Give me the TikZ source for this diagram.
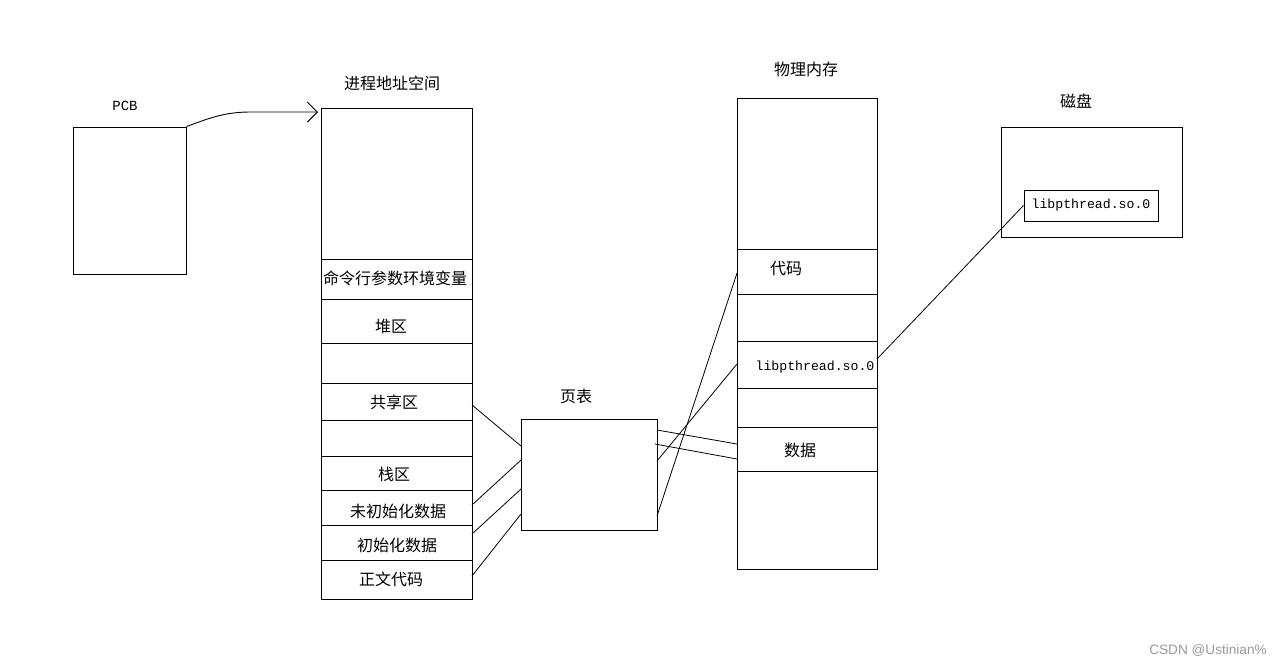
\documentclass[tikz,border=0pt]{standalone}
\usepackage{fontspec}
\setmainfont{Noto Sans CJK SC}
\newfontfamily\monof{Liberation Mono}
\newfontfamily\wmf{Liberation Sans}
\usetikzlibrary{arrows.meta}
\definecolor{wmgray}{HTML}{9A9A9A}
\begin{document}
\begin{tikzpicture}[x=1pt,y=-1pt,
  box/.style={draw=black,line width=1pt,inner sep=0pt,minimum width=#1},
  cjk/.style={inner sep=0pt,font=\fontsize{16}{18}\selectfont},
  mono/.style={inner sep=0pt,font=\monof\fontsize{13.2}{16}\selectfont},
  link/.style={draw=black,line width=0.8pt},
  wm/.style={inner sep=0pt,text=wmgray,font=\wmf\fontsize{13.6}{16}\selectfont}]
\useasboundingbox[fill=white] (0,0) rectangle (1284,665);

% PCB
\node[box=113pt,minimum height=147pt] (pcb) at (129.5,200.5) {};
\node[mono,font=\monof\fontsize{14}{16}\selectfont] (pcbt) at (125,106) {PCB};

% Process address space
\node[cjk] (ast) at (392,83) {进程地址空间};
\node[box=151pt,minimum height=151pt] (a0) at (396.5,183.5) {};
\node[box=151pt,minimum height=40pt] (a1) at (396.5,279) {};
\node[box=151pt,minimum height=44pt] (a2) at (396.5,321) {};
\node[box=151pt,minimum height=40pt] (a3) at (396.5,363) {};
\node[box=151pt,minimum height=37pt] (a4) at (396.5,401.5) {};
\node[box=151pt,minimum height=36pt] (a5) at (396.5,438) {};
\node[box=151pt,minimum height=34pt] (a6) at (396.5,473) {};
\node[box=151pt,minimum height=35pt] (a7) at (396.5,507.5) {};
\node[box=151pt,minimum height=35pt] (a8) at (396.5,542.5) {};
\node[box=151pt,minimum height=39pt] (a9) at (396.5,579.5) {};
\node[cjk] (l1) at (395,278) {命令行参数环境变量};
\node[cjk] (l2) at (391,326) {堆区};
\node[cjk] (l4) at (394,402) {共享区};
\node[cjk] (l6) at (394,474) {栈区};
\node[cjk] (l7) at (398,511) {未初始化数据};
\node[cjk] (l8) at (397,545) {初始化数据};
\node[cjk] (l9) at (391,579) {正文代码};

% PCB -> address space arrow
\coordinate (arrEnd) at (318,112);
\draw[line width=0.9pt,-{Straight Barb[length=10pt,width=20pt,line width=0.9pt]}]
  (pcb.north east) .. controls (205,120) and (222,112) .. (250,112) -- (arrEnd);

% Page table
\node[cjk] (ptt) at (576,396) {页表};
\node[box=136pt,minimum height=111pt] (pt) at (589,474.5) {};

% Physical memory
\node[cjk] (pmt) at (806,69) {物理内存};
\node[box=140pt,minimum height=151pt] (m0) at (807,173.5) {};
\node[box=140pt,minimum height=45pt] (m1) at (807,271.5) {};
\node[box=140pt,minimum height=47pt] (m2) at (807,317.5) {};
\node[box=140pt,minimum height=47pt] (m3) at (807,364.5) {};
\node[box=140pt,minimum height=39pt] (m4) at (807,407.5) {};
\node[box=140pt,minimum height=44pt] (m5) at (807,449) {};
\node[box=140pt,minimum height=98pt] (m6) at (807,520) {};
\node[cjk] (ml1) at (786,269) {代码};
\node[mono] (ml3) at (815,367) {libpthread.so.0};
\node[cjk] (ml5) at (800,450) {数据};

% Disk
\node[cjk] (dkt) at (1076,101) {磁盘};
\node[box=181pt,minimum height=110pt] (dk) at (1091.5,182) {};
\node[box=134pt,minimum height=31pt,mono] (lib) at (1091,205.5) {libpthread.so.0};

% connection coordinates
\coordinate (aS) at (472,405);
\coordinate (aB) at (472,505);
\coordinate (aD) at (472,534);
\coordinate (aT) at (472,576);
\coordinate (pL1) at (521,446);
\coordinate (pL2) at (521,460);
\coordinate (pL3) at (521,489);
\coordinate (pL4) at (521,514);
\coordinate (pR1) at (657,430);
\coordinate (pR2) at (655,444);
\coordinate (pR3) at (657,461);
\coordinate (pR4) at (657,516);
\coordinate (mD1) at (737,444);
\coordinate (mD2) at (737,459);
\coordinate (mL) at (737,364);
\coordinate (mC) at (737,273);
\coordinate (mLr) at (877,359);

\draw[link] (aS) -- (pL1);
\draw[link] (aB) -- (pL2);
\draw[link] (aD) -- (pL3);
\draw[link] (aT) -- (pL4);
\draw[link] (pR1) -- (mD1);
\draw[link] (pR2) -- (mD2);
\draw[link] (pR3) -- (mL);
\draw[link] (pR4) -- (mC);
\draw[link] (mLr) -- (lib.west);

% watermark
\node[wm] (wmk) at (1208,650) {CSDN @Ustinian\%};
\end{tikzpicture}
\end{document}
